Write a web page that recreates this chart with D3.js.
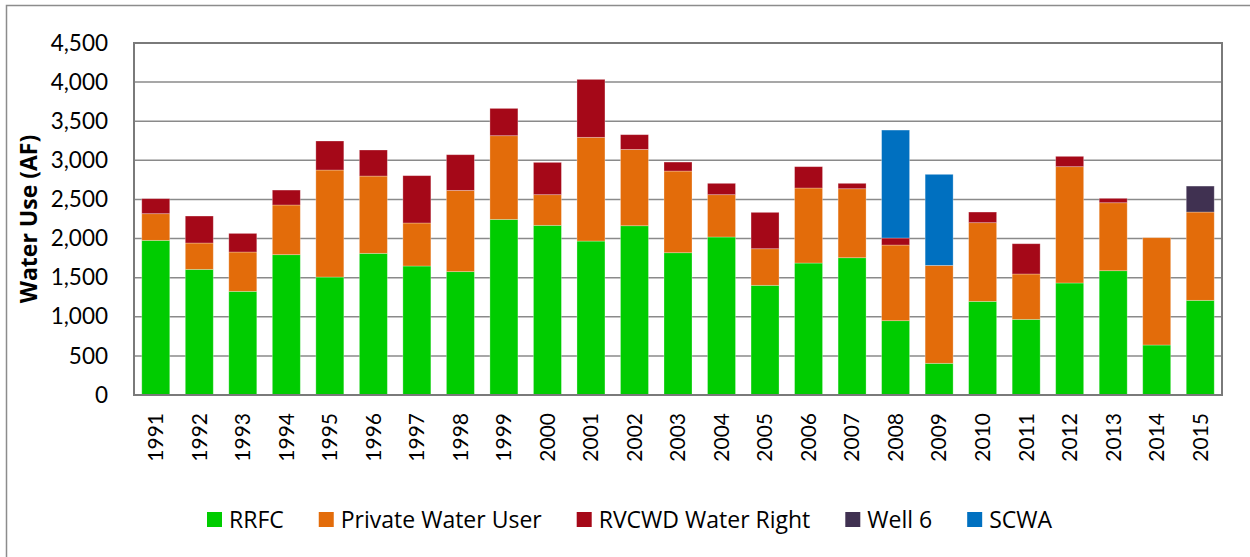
<!DOCTYPE html>
<html>
<head>
<meta charset="utf-8">
<script src="https://cdn.jsdelivr.net/npm/d3@7"></script>
<style>
  body { margin: 0; background: #fff; }
  svg { display: block; font-family: Lato, "Open Sans", sans-serif; }
</style>
</head>
<body>
<svg id="chart" width="1250" height="557"></svg>
<script>
const years = ["1991","1992","1993","1994","1995","1996","1997","1998","1999","2000",
  "2001","2002","2003","2004","2005","2006","2007","2008","2009","2010",
  "2011","2012","2013","2014","2015"];

const rrfc    = [1977,1606,1325,1794,1508,1811,1649,1577,2245,2169,1968,2164,1819,2020,1402,1687,1755,950,405,1197,967,1432,1589,639,1210];
const privateUser = [341,337,503,635,1368,988,550,1039,1070,392,1326,976,1044,541,468,959,882,967,1252,1006,580,1487,869,1372,1129];
const rvcwd   = [192,345,238,191,371,333,605,456,349,413,741,188,115,145,465,273,69,90,0,136,387,132,56,0,0];
const well6   = [0,0,0,0,0,0,0,0,0,0,0,0,0,0,0,0,0,0,0,0,0,0,0,0,332];
const scwa    = [0,0,0,0,0,0,0,0,0,0,0,0,0,0,0,0,0,1380,1164,0,0,0,0,0,0];

const seriesNames = ["RRFC", "Private Water User", "RVCWD Water Right", "Well 6", "SCWA"];
const seriesValues = [rrfc, privateUser, rvcwd, well6, scwa];
const colors = ["#00cc00", "#e36c0a", "#a50818", "#403151", "#0070c0"];
const yTicks = [0, 500, 1000, 1500, 2000, 2500, 3000, 3500, 4000, 4500];

const svg = d3.select("#chart");
const plot = { left: 134, right: 1222, top: 43, bottom: 395 };

// outer chart frame (runs off the right / bottom edge like the source)
svg.append("rect")
  .attr("x", 6.5).attr("y", 5.5)
  .attr("width", 1260).attr("height", 600)
  .attr("fill", "none").attr("stroke", "#8c8c8c").attr("stroke-width", 1.5);

const table = years.map((yr, i) => {
  const row = { year: yr };
  seriesNames.forEach((s, j) => { row[s] = seriesValues[j][i]; });
  return row;
});

const stacked = d3.stack().keys(seriesNames)(table);

const x = d3.scaleBand()
  .domain(years)
  .range([plot.left, plot.right])
  .paddingInner(0.357)
  .paddingOuter(0.1785);

const y = d3.scaleLinear().domain([0, 4500]).range([plot.bottom, plot.top]);

// gridlines
svg.append("g")
  .selectAll("line")
  .data(yTicks.filter(d => d > 0))
  .join("line")
  .attr("x1", plot.left).attr("x2", plot.right)
  .attr("y1", d => y(d)).attr("y2", d => y(d))
  .attr("stroke", "#8a8a8a").attr("stroke-width", 1.5);

// bars
svg.append("g")
  .selectAll("g")
  .data(stacked)
  .join("g")
  .attr("fill", (d, i) => colors[i])
  .selectAll("rect")
  .data(d => d.filter(p => p[1] - p[0] > 0))
  .join("rect")
  .attr("x", d => x(d.data.year))
  .attr("width", x.bandwidth())
  .attr("y", d => y(d[1]))
  .attr("height", d => y(d[0]) - y(d[1]))
  .attr("stroke", "rgba(255,255,255,0.35)")
  .attr("stroke-width", 0.8);

// plot border
svg.append("rect")
  .attr("x", plot.left).attr("y", plot.top)
  .attr("width", plot.right - plot.left).attr("height", plot.bottom - plot.top)
  .attr("fill", "none").attr("stroke", "#7a7a7a").attr("stroke-width", 2);

// y axis
const yAxis = svg.append("g")
  .attr("transform", "translate(" + plot.left + ",0)")
  .call(d3.axisLeft(y).tickValues(yTicks).tickFormat(d3.format(",")).tickSize(0).tickPadding(26));
yAxis.select(".domain").remove();
yAxis.selectAll("text")
  .attr("font-size", 22.5)
  .attr("font-family", "Lato, sans-serif")
  .attr("fill", "#000");

// x axis
const xAxis = svg.append("g")
  .attr("transform", "translate(0," + plot.bottom + ")")
  .call(d3.axisBottom(x).tickSize(0));
xAxis.select(".domain").remove();
xAxis.selectAll("text")
  .attr("font-size", 21)
  .attr("font-family", "Lato, sans-serif")
  .attr("fill", "#000")
  .attr("transform", "rotate(-90)")
  .attr("text-anchor", "end")
  .attr("dy", "0.35em")
  .attr("x", -18)
  .attr("y", 0);

// y axis title
svg.append("text")
  .attr("transform", "translate(29," + (plot.top + plot.bottom) / 2 + ") rotate(-90)")
  .attr("text-anchor", "middle")
  .attr("dy", "0.35em")
  .attr("font-size", 23)
  .attr("font-weight", "bold")
  .attr("font-family", "'Open Sans', sans-serif")
  .text("Water Use (AF)");

// legend
const legend = svg.append("g");
let lx = 207;
seriesNames.forEach((name, i) => {
  legend.append("rect")
    .attr("x", lx).attr("y", 512)
    .attr("width", 15).attr("height", 15)
    .attr("fill", colors[i]);
  const t = legend.append("text")
    .attr("x", lx + 22).attr("y", 519.5)
    .attr("dy", "0.35em")
    .attr("font-size", 23)
    .attr("font-family", "'Open Sans', sans-serif")
    .text(name);
  lx += 22 + t.node().getComputedTextLength() + 35;
});
</script>
</body>
</html>
